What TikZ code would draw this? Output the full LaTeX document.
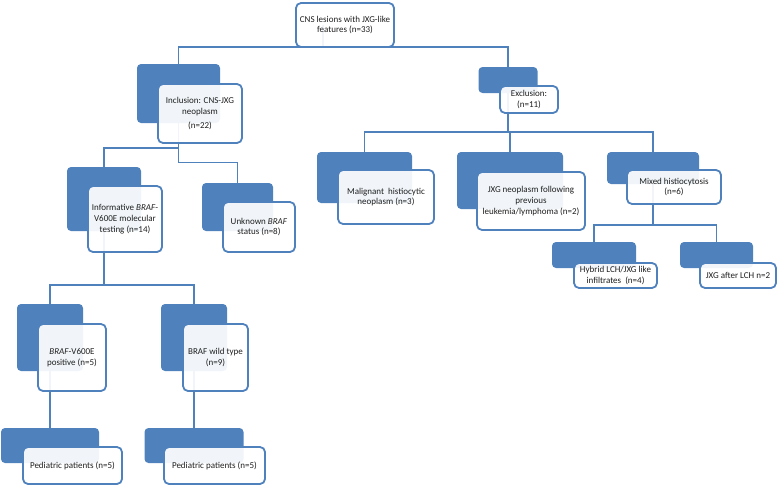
\documentclass[tikz,border=0pt]{standalone}
\usepackage{fontspec}
\setmainfont{Carlito}
\usetikzlibrary{positioning,calc,backgrounds}
\definecolor{hbBlue}{HTML}{4F81BD}
\definecolor{hbText}{HTML}{1F1F1F}
\tikzset{
  % Filled tab that sits behind each card.
  hb/back/.style={
    fill=hbBlue, draw=none, rounded corners=4pt, inner sep=0pt
  },
  % The card with the text, laid over the tab; a little see-through.
  hb/front/.style={
    draw=hbBlue, fill=white, fill opacity=0.92, text opacity=1,
    line width=1.8pt, rounded corners=5pt, inner sep=0.5pt, align=center,
    font=\fontsize{9}{10.8}\selectfont, text=hbText
  },
  % Elbow connectors of the tree.
  hb/link/.style={
    draw=hbBlue, line width=1.8pt
  },
}

\begin{document}
\begin{tikzpicture}[x=1pt,y=-1pt]
  \useasboundingbox (0,0) rectangle (778,487);
  % root
  \node[hb/front, minimum width=98, minimum height=44] (top) at (345,25)
       {CNS lesions with JXG-like\\features (n=33)};
  \coordinate (topC) at (323,25);
  % second level
  \node[hb/back, minimum width=83, minimum height=59] (incB) at (178.5,93.5) {};
  \node[hb/front, minimum width=84, minimum height=59] (inc) at (200,113.5)
       {Inclusion: CNS-JXG\\neoplasm\\[3pt](n=22)};
  \node[hb/back, minimum width=59, minimum height=26] (excB) at (508,80) {};
  \node[hb/front, minimum width=58, minimum height=27] (exc) at (529,99.5)
       {Exclusion:\\(n=11)};
  % inclusion branch
  \node[hb/back, minimum width=74, minimum height=64] (infB) at (104,199) {};
  \node[hb/front, minimum width=74, minimum height=66] (inf) at (125,219)
       {Informative \textit{BRAF}-\\V600E molecular\\testing (n=14)};
  \node[hb/back, minimum width=71, minimum height=48] (unkB) at (237.5,207) {};
  \node[hb/front, minimum width=72, minimum height=50] (unk) at (259,227)
       {Unknown \textit{BRAF}\\status (n=8)};
  \node[hb/back, minimum width=66, minimum height=67] (posB) at (50,337.5) {};
  \node[hb/front, minimum width=68, minimum height=67] (pos) at (72,357.5)
       {\textit{BRAF}-V600E\\positive (n=5)};
  \node[hb/back, minimum width=66, minimum height=67] (wilB) at (194,337.5) {};
  \node[hb/front, minimum width=65, minimum height=67] (wil) at (215.5,357.5)
       {BRAF wild type\\(n=9)};
  \node[hb/back, minimum width=98, minimum height=35] (pd1B) at (50,445.5) {};
  \node[hb/front, minimum width=99, minimum height=37] (pd1) at (72.5,465.5)
       {Pediatric patients (n=5)};
  \node[hb/back, minimum width=99, minimum height=35] (pd2B) at (194,445.5) {};
  \node[hb/front, minimum width=101, minimum height=37] (pd2) at (214.5,465.5)
       {Pediatric patients (n=5)};
  % exclusion branch
  \node[hb/back, minimum width=95, minimum height=51] (malB) at (364.5,177.5) {};
  \node[hb/front, minimum width=96, minimum height=54] (mal) at (386,197)
       {Malignant\ \ histiocytic\\neoplasm (n=3)};
  \node[hb/back, minimum width=106, minimum height=57] (leuB) at (510,180.5) {};
  \node[hb/front, minimum width=108, minimum height=58] (leu) at (531,201)
       {JXG neoplasm following\\previous\\leukemia/lymphoma (n=2)};
  \node[hb/back, minimum width=92, minimum height=32] (mixB) at (653,168) {};
  \node[hb/front, minimum width=94, minimum height=34] (mix) at (674,187)
       {Mixed histiocytosis\\(n=6)};
  \node[hb/back, minimum width=84, minimum height=26] (hybB) at (594,255) {};
  \node[hb/front, minimum width=83, minimum height=25] (hyb) at (615.5,275.5)
       {Hybrid LCH/JXG like\\infiltrates\ \ (n=4)};
  \node[hb/back, minimum width=73, minimum height=26] (aftB) at (716.5,255) {};
  \node[hb/front, minimum width=76, minimum height=25] (aft) at (738,275.5)
       {JXG after LCH n=2};
  % connectors, kept under the cards
  \begin{scope}[on background layer]
    \draw[hb/link] (topC) -- ++(0,22) -| (incB.north);
    \draw[hb/link] (topC) -- ++(0,22) -| (excB.north);
    \draw[hb/link] (incB.center) -- ++(0,54.5) -| (infB.north);
    \draw[hb/link] (incB.center) -- ++(0,69) -| (unkB.north);
    \foreach \c in {malB,leuB,mixB}{\draw[hb/link] (excB.center) -- ++(0,52) -| (\c.north);}
    \foreach \c in {posB,wilB}{\draw[hb/link] (infB.center) -- ++(0,86) -| (\c.north);}
    \foreach \c in {hybB,aftB}{\draw[hb/link] (mixB.center) -- ++(0,57) -| (\c.north);}
    \foreach \a/\b in {posB/pd1B,wilB/pd2B}{\draw[hb/link] (\a.center) -- (\b.north);}
  \end{scope}
\end{tikzpicture}
\end{document}
